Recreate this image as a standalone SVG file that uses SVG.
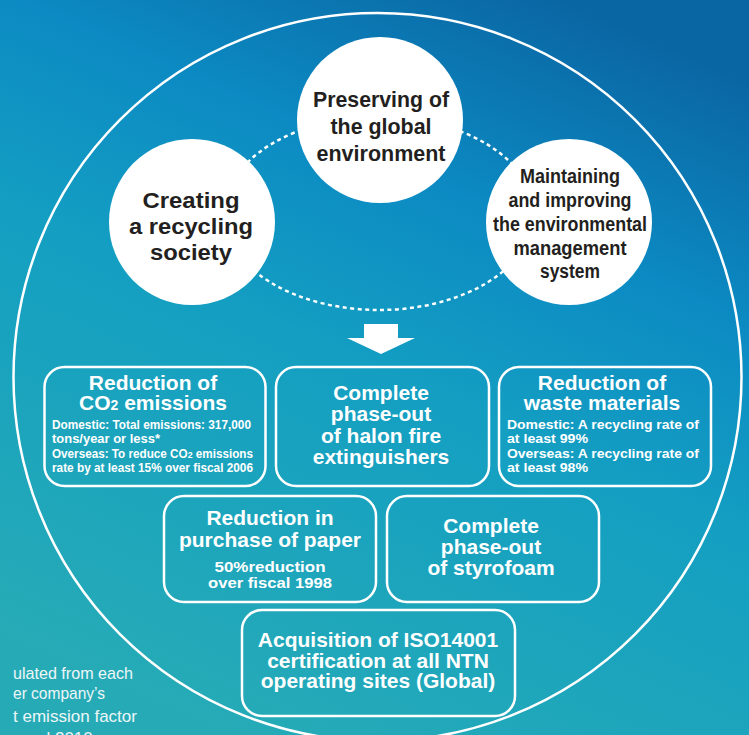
<svg xmlns="http://www.w3.org/2000/svg" width="749" height="735" viewBox="0 0 749 735">
<defs>
<linearGradient id="bg" x1="0.75" y1="0" x2="0.3" y2="1">
<stop offset="0" stop-color="#0a66a3"/>
<stop offset="0.28" stop-color="#0c8bc3"/>
<stop offset="0.52" stop-color="#149fc2"/>
<stop offset="1" stop-color="#26abb6"/>
</linearGradient>
<style>
.ring{fill:none;stroke:#fff;stroke-width:2.5}
.dash{fill:none;stroke:#fff;stroke-width:2.5;stroke-dasharray:4 3.5}
.disc{fill:#fff}
.box{fill:none;stroke:#fff;stroke-width:2.5}
.ct{font-family:"Liberation Sans",Arial,sans-serif;font-weight:bold;fill:#231f20;text-anchor:middle}
.c1{font-size:22px}
.c2{font-size:20px}
.bt{font-family:"Liberation Sans",Arial,sans-serif;font-weight:bold;font-size:21px;fill:#fff;text-anchor:middle}
.sm{font-family:"Liberation Sans",Arial,sans-serif;font-weight:bold;font-size:12px;fill:#fff}
.md{font-family:"Liberation Sans",Arial,sans-serif;font-weight:bold;font-size:15px;fill:#fff;text-anchor:middle}
.fn{font-family:"Liberation Sans",Arial,sans-serif;font-size:17px;fill:#eef6f8}
</style>
</defs>
<rect width="749" height="735" fill="url(#bg)"/>
<circle class="ring" cx="377.5" cy="377" r="364"/>

<g id="connectors">
<ellipse class="dash" cx="379" cy="213.5" rx="155" ry="96.5"/>
<polygon fill="#fff" points="364,324 398,324 398,338 415,338 381,354 347,338 364,338"/>
</g>

<g id="node-preserving">
<circle class="disc" cx="380" cy="120" r="83"/>
<text class="ct c1" x="381" y="107" textLength="136" lengthAdjust="spacingAndGlyphs">Preserving of</text>
<text class="ct c1" x="381" y="134" textLength="101" lengthAdjust="spacingAndGlyphs">the global</text>
<text class="ct c1" x="381" y="161" textLength="129" lengthAdjust="spacingAndGlyphs">environment</text>
</g>

<g id="node-recycling">
<circle class="disc" cx="192" cy="222" r="83"/>
<text class="ct c1" x="191" y="208" textLength="97" lengthAdjust="spacingAndGlyphs">Creating</text>
<text class="ct c1" x="191" y="234" textLength="124" lengthAdjust="spacingAndGlyphs">a recycling</text>
<text class="ct c1" x="191" y="260" textLength="82" lengthAdjust="spacingAndGlyphs">society</text>
</g>

<g id="node-ems">
<circle class="disc" cx="569" cy="222" r="83"/>
<text class="ct c2" x="570" y="183" textLength="100" lengthAdjust="spacingAndGlyphs">Maintaining</text>
<text class="ct c2" x="570" y="207" textLength="123" lengthAdjust="spacingAndGlyphs">and improving</text>
<text class="ct c2" x="570" y="231" textLength="154" lengthAdjust="spacingAndGlyphs">the environmental</text>
<text class="ct c2" x="570" y="255" textLength="113" lengthAdjust="spacingAndGlyphs">management</text>
<text class="ct c2" x="570" y="278" textLength="60" lengthAdjust="spacingAndGlyphs">system</text>
</g>

<g id="node-co2">
<rect class="box" x="44.5" y="367" width="221" height="119" rx="20"/>
<text class="bt" x="153" y="390">Reduction of</text>
<text class="bt" x="153" y="410">CO<tspan font-size="14">2</tspan> emissions</text>
<text class="sm" x="52" y="429" textLength="199" lengthAdjust="spacingAndGlyphs">Domestic: Total emissions: 317,000</text>
<text class="sm" x="52" y="443" textLength="108" lengthAdjust="spacingAndGlyphs">tons/year or less*</text>
<text class="sm" x="52" y="458" textLength="201" lengthAdjust="spacingAndGlyphs">Overseas: To reduce CO<tspan font-size="9">2</tspan> emissions</text>
<text class="sm" x="52" y="472" textLength="201" lengthAdjust="spacingAndGlyphs">rate by at least 15% over fiscal 2006</text>
</g>

<g id="node-halon">
<rect class="box" x="276" y="367" width="213" height="119" rx="20"/>
<text class="bt" x="381" y="400">Complete</text>
<text class="bt" x="381" y="421">phase-out</text>
<text class="bt" x="381" y="443">of halon fire</text>
<text class="bt" x="381" y="464">extinguishers</text>
</g>

<g id="node-waste">
<rect class="box" x="499" y="367" width="212" height="119" rx="20"/>
<text class="bt" x="602" y="390">Reduction of</text>
<text class="bt" x="602" y="410">waste materials</text>
<text class="sm" x="507" y="429" textLength="192" lengthAdjust="spacingAndGlyphs">Domestic: A recycling rate of</text>
<text class="sm" x="507" y="443" textLength="81" lengthAdjust="spacingAndGlyphs">at least 99%</text>
<text class="sm" x="507" y="458" textLength="192" lengthAdjust="spacingAndGlyphs">Overseas: A recycling rate of</text>
<text class="sm" x="507" y="472" textLength="81" lengthAdjust="spacingAndGlyphs">at least 98%</text>
</g>

<g id="node-paper">
<rect class="box" x="164" y="496" width="212" height="106" rx="20"/>
<text class="bt" x="270" y="525">Reduction in</text>
<text class="bt" x="270" y="547">purchase of paper</text>
<text class="md" x="270" y="572" textLength="111" lengthAdjust="spacingAndGlyphs">50%reduction</text>
<text class="md" x="270" y="588" textLength="124" lengthAdjust="spacingAndGlyphs">over fiscal 1998</text>
</g>

<g id="node-styrofoam">
<rect class="box" x="387" y="496" width="212" height="106" rx="20"/>
<text class="bt" x="491" y="533">Complete</text>
<text class="bt" x="491" y="554">phase-out</text>
<text class="bt" x="491" y="575">of styrofoam</text>
</g>

<g id="node-iso">
<rect class="box" x="242" y="610" width="273" height="106" rx="20"/>
<text class="bt" x="378" y="647">Acquisition of ISO14001</text>
<text class="bt" x="378" y="668">certification at all NTN</text>
<text class="bt" x="378" y="688">operating sites (Global)</text>
</g>

<g id="footnote">
<text class="fn" x="13" y="679" textLength="120" lengthAdjust="spacingAndGlyphs">ulated from each</text>
<text class="fn" x="13" y="699" textLength="92" lengthAdjust="spacingAndGlyphs">er company’s</text>
<text class="fn" x="13" y="722" textLength="124" lengthAdjust="spacingAndGlyphs">t emission factor</text>
<text class="fn" x="20" y="744">scal 2010</text>
</g>
</svg>
